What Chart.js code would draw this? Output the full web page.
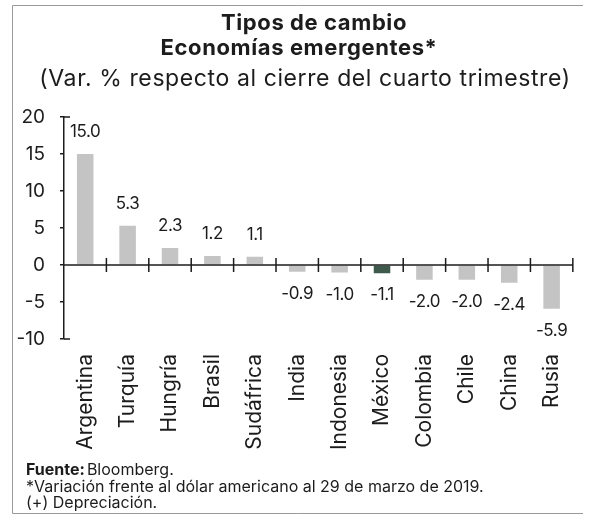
<!DOCTYPE html>
<html>
<head>
<meta charset="utf-8">
<script src="https://cdn.jsdelivr.net/npm/chart.js@4"></script>
<style>
    html, body { margin: 0; padding: 0; background: #fff; }
    #wrap { width: 592px; height: 519px; }
</style>
</head>
<body>
<div id="wrap"><canvas id="chart" width="592" height="519"></canvas></div>
<script>
const categories = ["Argentina", "Turquía", "Hungría", "Brasil", "Sudáfrica", "India", "Indonesia", "México", "Colombia", "Chile", "China", "Rusia"];
const values = [15.0, 5.3, 2.3, 1.2, 1.1, -0.9, -1.0, -1.1, -2.0, -2.0, -2.4, -5.9];
const highlight = "México";
const yMin = -10;
const yMax = 20;
const yStep = 5;

const titleLines = ["Tipos de cambio", "Economías emergentes*"];
const subtitleText = "(Var. % respecto al cierre del cuarto trimestre)";
const notes = ["*Variación frente al dólar americano al 29 de marzo de 2019.", "(+) Depreciación."];

const FONT = 'Inter, "DejaVu Sans", sans-serif';
const INK = "#1c1c1c";

const barColors = categories.map(c => c === highlight ? "#3d5a4c" : "#c4c4c4");

// Marco, titulos, linea cero, marcas de categoria, etiquetas y notas
const decor = {
    id: "decor",
    beforeDraw(chart) {
        const ctx = chart.ctx;
        ctx.save();
        ctx.fillStyle = "#fff";
        ctx.fillRect(0, 0, chart.width, chart.height);
        ctx.strokeStyle = "#9a9a9a";
        ctx.lineWidth = 1;
        ctx.beginPath();
        ctx.moveTo(12.5, 5.5);
        ctx.lineTo(583, 5.5);
        ctx.moveTo(12.5, 5.5);
        ctx.lineTo(12.5, 513.5);
        ctx.lineTo(583, 513.5);
        ctx.stroke();

        ctx.fillStyle = INK;
        ctx.textAlign = "center";
        ctx.textBaseline = "middle";
        ctx.font = "bold 22px " + FONT;
        ctx.letterSpacing = "0.6px";
        ctx.fillText(titleLines[0], 314, 23);
        ctx.fillText(titleLines[1], 299, 48);
        ctx.font = "23px " + FONT;
        ctx.letterSpacing = "0.6px";
        ctx.fillText(subtitleText, 305, 79);
        ctx.restore();
    },
    afterDatasetsDraw(chart) {
        const { ctx, chartArea, scales: { x, y } } = chart;
        const y0 = y.getPixelForValue(0);
        const half = (x.getPixelForValue(1) - x.getPixelForValue(0)) / 2;

        ctx.save();
        ctx.strokeStyle = INK;
        ctx.lineWidth = 1.5;
        ctx.beginPath();
        ctx.moveTo(chartArea.left, y0);
        ctx.lineTo(chartArea.right, y0);
        categories.forEach((c, i) => {
            const bx = x.getPixelForValue(i) + half;
            ctx.moveTo(bx, y0 - 7);
            ctx.lineTo(bx, y0 + 7);
        });
        // remates del eje vertical
        const yTop = y.getPixelForValue(yMax);
        const yBot = y.getPixelForValue(yMin);
        ctx.moveTo(chartArea.left, yTop);
        ctx.lineTo(chartArea.left + 6, yTop);
        ctx.moveTo(chartArea.left, yBot);
        ctx.lineTo(chartArea.left + 6, yBot);
        ctx.stroke();

        ctx.fillStyle = INK;
        ctx.font = "17px " + FONT;
        ctx.letterSpacing = "-0.4px";
        ctx.textAlign = "center";
        ctx.textBaseline = "middle";
        chart.getDatasetMeta(0).data.forEach((bar, i) => {
            const v = values[i];
            const ty = v >= 0 ? bar.y - 22 : bar.y + 22;
            ctx.fillText(v.toFixed(1), bar.x, ty);
        });
        ctx.restore();
    },
    afterDraw(chart) {
        const ctx = chart.ctx;
        ctx.save();
        ctx.fillStyle = INK;
        ctx.textBaseline = "middle";
        ctx.textAlign = "left";
        ctx.font = "bold 16px " + FONT;
        ctx.fillText("Fuente:", 26, 470);
        const w = ctx.measureText("Fuente:").width;
        ctx.font = "16px " + FONT;
        ctx.fillText("Bloomberg.", 26 + w + 2, 470);
        ctx.fillText(notes[0], 26, 487);
        ctx.fillText(notes[1], 26, 503);
        ctx.restore();
    }
};

new Chart(document.getElementById("chart"), {
    type: "bar",
    data: {
        labels: categories,
        datasets: [{
            data: values,
            backgroundColor: barColors,
            borderWidth: 0,
            barPercentage: 0.39,
            categoryPercentage: 1
        }]
    },
    options: {
        responsive: false,
        animation: false,
        layout: { padding: { left: 0, right: 4, top: 117, bottom: 0 } },
        plugins: {
            legend: { display: false },
            tooltip: { enabled: false },
            title: { display: false }
        },
        scales: {
            x: {
                grid: { display: false, drawTicks: false },
                border: { display: false },
                ticks: {
                    autoSkip: false,
                    minRotation: 90,
                    maxRotation: 90,
                    padding: 15,
                    color: INK,
                    font: { family: FONT, size: 21 }
                },
                afterFit(scale) { scale.height = 180; }
            },
            y: {
                min: yMin,
                max: yMax,
                grid: { drawOnChartArea: false, color: INK, lineWidth: 1.5, tickLength: 4 },
                border: { display: true, color: INK, width: 1.5 },
                ticks: {
                    stepSize: yStep,
                    padding: 15,
                    color: INK,
                    font: { family: FONT, size: 19 }
                },
                afterFit(scale) { scale.width = 64; }
            }
        }
    },
    plugins: [decor]
});
</script>
</body>
</html>
